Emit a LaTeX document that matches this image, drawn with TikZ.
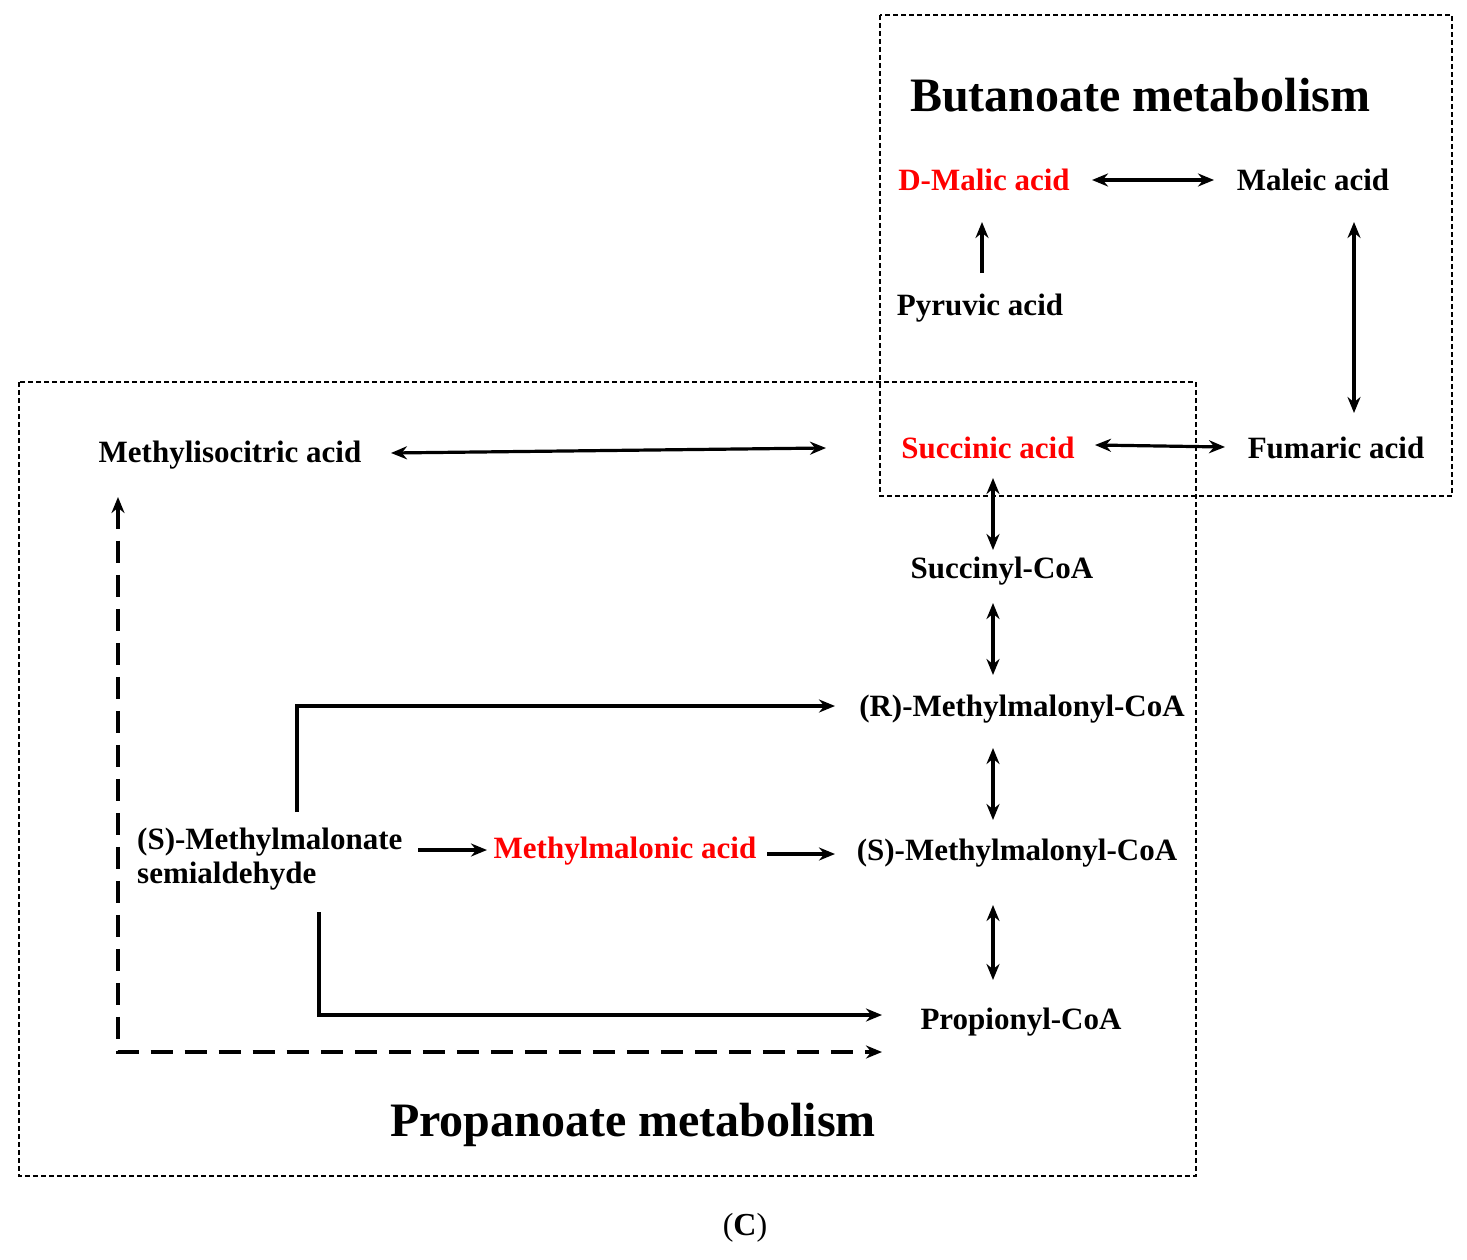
\documentclass[tikz,border=0pt]{standalone}
\usepackage{fontspec}
\setmainfont{Liberation Serif}
\usetikzlibrary{arrows.meta}
\definecolor{hl}{RGB}{255,0,0}
\begin{document}
\begin{tikzpicture}[x=1pt,y=-1pt,
  lbl/.style={font=\fontsize{31}{36}\selectfont\bfseries,inner sep=0pt},
  red/.style={lbl,text=hl},
  ttl/.style={font=\fontsize{48}{52}\selectfont\bfseries,inner sep=0pt},
  box/.style={draw,line width=1.3pt,dash pattern=on 5pt off 3pt},
  ar/.style={line width=3.2pt,-{Stealth[length=16pt,width=13pt]}},
  br/.style={line width=3.2pt,{Stealth[length=16pt,width=13pt]}-{Stealth[length=16pt,width=13pt]}},
  dr/.style={br,dash pattern=on 22pt off 12pt}]
\useasboundingbox[fill=white] (0,0) rectangle (1467,1260);
\draw[box] (880,15) rectangle (1452,496);
\draw[box] (19,382) rectangle (1196,1176);
\node[ttl] (bt) at (1140,95) {Butanoate metabolism};
\node[ttl] (pt) at (633,1125) {Propanoate metabolism};
\node[red] (dm) at (984,180) {D-Malic acid};
\node[lbl] (ma) at (1313,180) {Maleic acid};
\node[lbl] (py) at (980,308) {Pyruvic acid};
\node[red] (su) at (988,448) {Succinic acid};
\node[lbl] (fu) at (1336,448) {Fumaric acid};
\node[lbl] (mi) at (230,455) {Methylisocitric acid};
\node[lbl] (sc) at (1002,571) {Succinyl-CoA};
\node[lbl] (rm) at (1022,709) {(R)-Methylmalonyl-CoA};
\node[lbl,align=left,anchor=north west] (se) at (137,828) {(S)-Methylmalonate\\[-2pt]semialdehyde};
\node[red] (mm) at (625,851) {Methylmalonic acid};
\node[lbl] (sm) at (1017,853) {(S)-Methylmalonyl-CoA};
\node[lbl] (pc) at (1021,1022) {Propionyl-CoA};
\node[font=\fontsize{32}{36}\selectfont,inner sep=0pt] (c) at (745,1228) {(\textbf{C})};
\coordinate (a1) at (1092,180); \coordinate (a2) at (1214,180);
\coordinate (b1) at (982,273); \coordinate (b2) at (982,222);
\coordinate (c1) at (1354,222); \coordinate (c2) at (1354,413);
\coordinate (d1) at (1095,445); \coordinate (d2) at (1225,447);
\coordinate (e1) at (391,453); \coordinate (e2) at (826,448);
\coordinate (f1) at (993,478); \coordinate (f2) at (993,550);
\coordinate (g1) at (993,603); \coordinate (g2) at (993,675);
\coordinate (h1) at (993,748); \coordinate (h2) at (993,820);
\coordinate (i1) at (993,905); \coordinate (i2) at (993,980);
\coordinate (j1) at (297,812); \coordinate (j2) at (835,706);
\coordinate (k1) at (418,850); \coordinate (k2) at (487,850);
\coordinate (l1) at (767,854); \coordinate (l2) at (835,854);
\coordinate (m1) at (319,912); \coordinate (m2) at (882,1015);
\coordinate (n1) at (118,497); \coordinate (n2) at (882,1052);
\draw[br] (a1) -- (a2);
\draw[ar] (b1) -- (b2);
\draw[br] (c1) -- (c2);
\draw[br] (d1) -- (d2);
\draw[br] (e1) -- (e2);
\draw[br] (f1) -- (f2);
\draw[br] (g1) -- (g2);
\draw[br] (h1) -- (h2);
\draw[br] (i1) -- (i2);
\draw[ar] (j1) |- (j2);
\draw[ar] (k1) -- (k2);
\draw[ar] (l1) -- (l2);
\draw[ar] (m1) |- (m2);
\draw[dr] (n1) |- (n2);
\end{tikzpicture}
\end{document}
